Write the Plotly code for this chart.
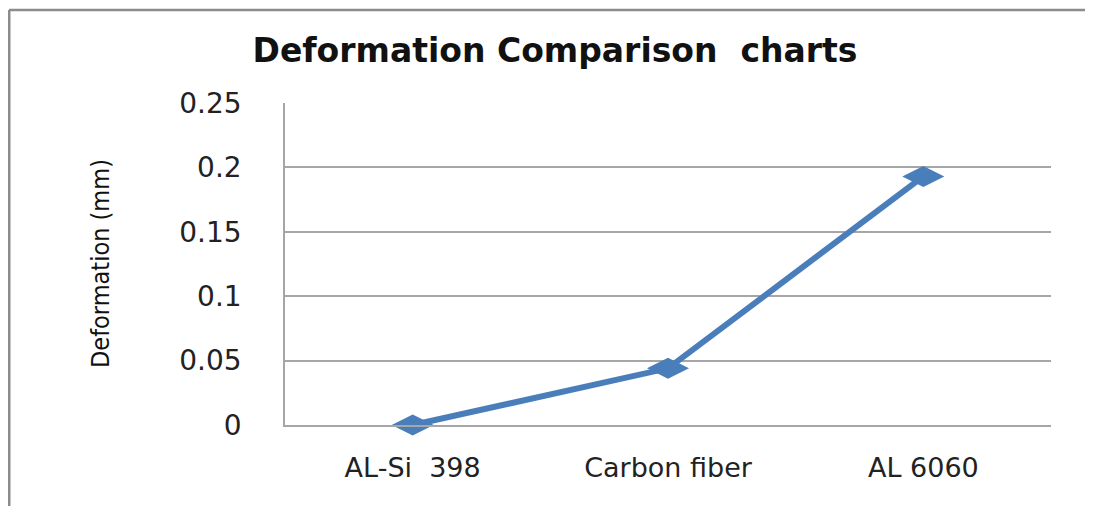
import plotly.graph_objects as go

categories = ["AL-Si  398", "Carbon fiber", "AL 6060"]
deformation = [0.0, 0.044, 0.193]
y_ticks = [0, 0.05, 0.1, 0.15, 0.2, 0.25]
y_tick_labels = ["0", "0.05", "0.1", "0.15", "0.2", "0.25"]

OFF = 8  # page body margin
W, H = 1093 - OFF, 506 - OFF
L, R, T = 285 - OFF, 42, 103 - OFF
B = H - (425 - OFF)
pw, ph = W - L - R, H - T - B

def px_x(x):
    return (x - OFF - L) / pw

def px_y(y):
    return (H - B - (y - OFF)) / ph

fig = go.Figure()
fig.add_trace(go.Scatter(
    x=categories, y=deformation, mode="lines+markers",
    line=dict(color="#4a7ebb", width=6),
    marker=dict(symbol="diamond-wide", size=30, color="#4a7ebb"),
    cliponaxis=False, showlegend=False,
))

grid = "#a6a6a6"
fig.update_layout(
    width=W, height=H,
    margin=dict(l=L, r=R, t=T, b=B),
    paper_bgcolor="white", plot_bgcolor="white",
    title=dict(text="<b>Deformation Comparison  charts</b>",
               font=dict(family="DejaVu Sans", size=33, color="#111111"),
               x=(555 - OFF) / W, xref="container", xanchor="center",
               y=1 - (50 - OFF) / H, yref="container", yanchor="middle"),
    xaxis=dict(type="category", range=[-0.5, 2.5], showgrid=False,
               showline=True, linecolor=grid, linewidth=1.5,
               ticks="", ticklabelstandoff=18,
               tickfont=dict(family="DejaVu Sans", size=27, color="#222222")),
    yaxis=dict(range=[0, 0.25], tickvals=y_ticks, ticktext=y_tick_labels,
               showgrid=True, gridcolor=grid, gridwidth=1.5,
               showline=True, linecolor=grid, linewidth=1.5,
               zeroline=False, ticks="", ticklabelstandoff=36,
               tickfont=dict(family="DejaVu Sans", size=28, color="#222222")),
    annotations=[dict(text="Deformation (mm)", textangle=-90,
                      x=px_x(100), y=px_y(264), xref="paper", yref="paper",
                      xanchor="center", yanchor="middle", showarrow=False,
                      font=dict(family="DejaVu Sans Condensed, Roboto Condensed, Liberation Sans Narrow, sans-serif",
                                size=25, color="#111111"))],
    shapes=[
        dict(type="line", xref="paper", yref="paper",
             x0=px_x(9), x1=px_x(9), y0=px_y(10), y1=px_y(520),
             line=dict(color="#8c8c8c", width=3)),
        dict(type="line", xref="paper", yref="paper",
             x0=px_x(9), x1=px_x(1100), y0=px_y(10), y1=px_y(10),
             line=dict(color="#8c8c8c", width=2.5)),
    ],
)

fig.write_html("out.html")
